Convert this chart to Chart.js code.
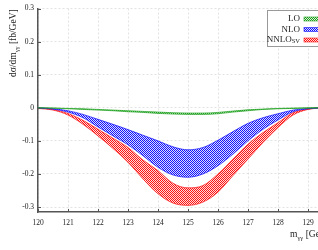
<!DOCTYPE html>
<html>
<head>
<meta charset="utf-8">
<script src="https://cdn.jsdelivr.net/npm/chart.js@4"></script>
<style>
  html, body { margin: 0; padding: 0; background: #fff; overflow: hidden; }
  canvas { display: block; }
</style>
</head>
<body>
<canvas id="chart" width="324" height="250"></canvas>
<script>
// invariant mass points [GeV]
const mgg = [120, 120.5, 121, 121.5, 122, 122.5, 123, 123.5, 124, 124.5,
             125, 125.5, 126, 126.5, 127, 127.5, 128, 128.5, 129, 129.5]

// band edges, dsigma/dm [fb/GeV]
const loHigh = [0, -0.001, -0.002, -0.003, -0.005, -0.007, -0.009, -0.011, -0.013, -0.015,
                -0.016, -0.016, -0.014, -0.010, -0.006, -0.004, -0.002, -0.001, 0, 0]
const loLow = [0, -0.001, -0.003, -0.005, -0.007, -0.009, -0.012, -0.014, -0.017, -0.019,
               -0.020, -0.020, -0.018, -0.013, -0.009, -0.005, -0.003, -0.002, -0.001, 0]
const nloHigh = [0, -0.003, -0.009, -0.020, -0.035, -0.050, -0.066, -0.083, -0.100, -0.118,
                 -0.127, -0.120, -0.098, -0.072, -0.047, -0.030, -0.018, -0.007, -0.002, 0]
const nloLow = [-0.001, -0.004, -0.013, -0.030, -0.058, -0.085, -0.112, -0.145, -0.180, -0.203,
                -0.210, -0.200, -0.175, -0.140, -0.100, -0.065, -0.037, -0.012, -0.003, 0]
const nnloHigh = [-0.001, -0.005, -0.017, -0.038, -0.065, -0.092, -0.120, -0.158, -0.190, -0.228,
                  -0.242, -0.235, -0.200, -0.155, -0.110, -0.075, -0.045, -0.015, -0.004, 0]
const nnloLow = [-0.002, -0.007, -0.022, -0.050, -0.085, -0.123, -0.165, -0.215, -0.260, -0.288,
                 -0.295, -0.285, -0.255, -0.205, -0.155, -0.105, -0.060, -0.022, -0.005, 0]

const xTicks = [120, 121, 122, 123, 124, 125, 126, 127, 128, 129]
const yTicks = [-0.3, -0.2, -0.1, 0, 0.1, 0.2, 0.3]

const SERIF = '"Liberation Serif", "DejaVu Serif", serif'

// fine mesh tile like the gnuplot hatch fill
function hatch(rgb) {
  const c = document.createElement('canvas')
  c.width = 2
  c.height = 2
  const g = c.getContext('2d')
  g.fillStyle = 'rgba(' + rgb + ',0.15)'
  g.fillRect(0, 0, 2, 2)
  g.fillStyle = 'rgb(' + rgb + ')'
  g.fillRect(0, 0, 1, 1)
  g.fillRect(1, 1, 1, 1)
  return g.createPattern(c, 'repeat')
}

const bands = [
  { label: 'LO', rgb: '30,160,30', low: loLow, high: loHigh },
  { label: 'NLO', rgb: '20,20,255', low: nloLow, high: nloHigh },
  { label: 'NNLO', sub: 'SV', rgb: '255,20,20', low: nnloLow, high: nnloHigh }
]
bands.forEach(b => {
  b.color = 'rgb(' + b.rgb + ')'
  b.pattern = hatch(b.rgb)
})

const toPoints = ys => mgg.map((x, i) => ({ x: x, y: ys[i] }))

const datasets = []
bands.forEach(b => {
  datasets.push({
    label: b.label + ' low',
    data: toPoints(b.low),
    borderColor: b.color,
    borderWidth: 0.7,
    pointRadius: 0,
    fill: false,
    cubicInterpolationMode: 'monotone'
  })
  datasets.push({
    label: b.label,
    data: toPoints(b.high),
    borderColor: b.color,
    borderWidth: 0.7,
    backgroundColor: b.pattern,
    pointRadius: 0,
    fill: '-1',
    cubicInterpolationMode: 'monotone'
  })
})

// text with a subscript, drawn left to right from (x, y)
function subText(ctx, main, sub, tail, x, y, size) {
  ctx.font = size + 'px ' + SERIF
  ctx.fillText(main, x, y)
  x += ctx.measureText(main).width
  ctx.font = (size * 0.7) + 'px ' + SERIF
  ctx.fillText(sub, x, y + size * 0.28)
  x += ctx.measureText(sub).width
  if (tail) {
    ctx.font = size + 'px ' + SERIF
    ctx.fillText(tail, x, y)
  }
}

const decorations = {
  id: 'decorations',
  afterDraw(chart) {
    const ctx = chart.ctx
    const area = chart.chartArea
    const xs = chart.scales.x
    const ys = chart.scales.y
    ctx.save()

    // inward tick marks
    ctx.strokeStyle = '#555'
    ctx.lineWidth = 1
    ctx.beginPath()
    xTicks.forEach(t => {
      const px = Math.round(xs.getPixelForValue(t)) + 0.5
      ctx.moveTo(px, area.bottom)
      ctx.lineTo(px, area.bottom - 3)
    })
    yTicks.forEach(t => {
      const py = Math.round(ys.getPixelForValue(t)) + 0.5
      ctx.moveTo(area.left, py)
      ctx.lineTo(area.left + 3, py)
    })
    ctx.stroke()

    // axis titles
    ctx.fillStyle = '#222'
    ctx.textAlign = 'left'
    ctx.textBaseline = 'alphabetic'
    ctx.save()
    ctx.translate(16, 77)
    ctx.rotate(-Math.PI / 2)
    subText(ctx, 'd\u03c3/dm', '\u03b3\u03b3', ' [fb/GeV]', 0, 0, 9.5)
    ctx.restore()
    subText(ctx, 'm', '\u03b3\u03b3', ' [GeV]', 290, 237, 9.5)

    // legend box
    ctx.fillStyle = '#fff'
    ctx.fillRect(267.5, 10.5, 60, 36)
    ctx.strokeStyle = '#999'
    ctx.lineWidth = 1
    ctx.strokeRect(267.5, 10.5, 60, 36)
    ctx.textBaseline = 'middle'
    bands.forEach((b, i) => {
      const cy = 19 + i * 10.5
      ctx.fillStyle = '#222'
      ctx.font = '9px ' + SERIF
      if (b.sub) {
        ctx.font = '6.5px ' + SERIF
        const sw = ctx.measureText(b.sub).width
        ctx.textAlign = 'right'
        ctx.fillText(b.sub, 300, cy + 1)
        ctx.font = '9px ' + SERIF
        ctx.fillText(b.label, 300 - sw, cy)
      } else {
        ctx.textAlign = 'right'
        ctx.fillText(b.label, 300, cy)
      }
      ctx.fillStyle = b.pattern
      ctx.fillRect(304, cy - 2, 16, 4)
      ctx.strokeStyle = b.color
      ctx.lineWidth = 0.6
      ctx.strokeRect(304, cy - 2, 16, 4)
    })
    ctx.restore()
  }
}

new Chart(document.getElementById('chart').getContext('2d'), {
  type: 'line',
  data: { datasets: datasets },
  options: {
    responsive: false,
    animation: false,
    devicePixelRatio: 1,
    layout: { padding: { top: 8, right: 1, left: 0, bottom: 0 } },
    plugins: { legend: { display: false }, tooltip: { enabled: false } },
    scales: {
      x: {
        type: 'linear',
        min: 120,
        max: 129.5,
        afterFit: s => { s.height = 38 },
        afterBuildTicks: s => { s.ticks = xTicks.map(v => ({ value: v })) },
        grid: { color: '#dcdcdc', lineWidth: 0.8, drawTicks: false },
        border: { color: '#555', width: 1.5, dash: [2, 2] },
        ticks: {
          padding: 7,
          color: '#222',
          maxRotation: 0,
          font: { family: SERIF, size: 7.5 }
        }
      },
      y: {
        type: 'linear',
        min: -0.315,
        max: 0.3,
        afterFit: s => { s.width = 38 },
        afterBuildTicks: s => { s.ticks = yTicks.map(v => ({ value: v })) },
        grid: { color: '#dcdcdc', lineWidth: 0.8, drawTicks: false },
        border: { color: '#555', width: 1.5, dash: [2, 2] },
        ticks: {
          padding: 4,
          color: '#222',
          font: { family: SERIF, size: 7.5 },
          callback: v => (Math.abs(v) < 1e-9 ? '0' : String(Math.round(v * 10) / 10))
        }
      }
    }
  },
  plugins: [decorations]
})
</script>
</body>
</html>
